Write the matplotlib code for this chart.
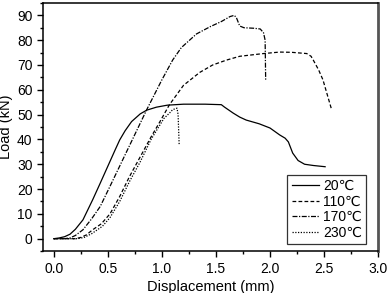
import numpy as np
import matplotlib
matplotlib.use('Agg')
import matplotlib.pyplot as plt
from matplotlib.ticker import MultipleLocator

plt.rcParams['font.family'] = ['Liberation Sans', 'DejaVu Sans']

# load-displacement curves
x_20 = [0, 0.05, 0.1, 0.15, 0.2, 0.27, 0.36, 0.43, 0.5, 0.57, 0.61, 0.66, 0.72, 0.8,
        0.86, 0.95, 1.05, 1.2, 1.4, 1.55, 1.58, 1.62, 1.66, 1.72, 1.78, 1.9, 2.0,
        2.09, 2.14, 2.17, 2.21, 2.26, 2.32, 2.4, 2.51]
y_20 = [0, 0.3, 0.8, 1.8, 3.8, 7.6, 15.7, 22.4, 29.2, 36, 39.8, 43.5, 47.2, 50.3,
        51.8, 53, 53.8, 54.2, 54.2, 54, 53, 51.8, 50.6, 49, 47.8, 46.3, 44.6,
        41.8, 40.5, 39, 34.5, 31.5, 30, 29.5, 29]

x_110 = [0, 0.2, 0.25, 0.3, 0.36, 0.44, 0.52, 0.61, 0.7, 0.8, 0.9, 0.98, 1.07, 1.2,
         1.35, 1.47, 1.6, 1.72, 1.94, 2.09, 2.2, 2.34, 2.38, 2.4, 2.45, 2.49, 2.53, 2.57]
y_110 = [0, 0, 0.5, 1.5, 3.6, 6, 10, 17, 25, 33, 41, 47, 54, 61.8,
         67, 70, 72, 73.5, 74.6, 75.2, 75.1, 74.6, 73.5, 72, 68, 64, 58, 52]

x_170 = [0, 0.1, 0.15, 0.2, 0.27, 0.35, 0.43, 0.53, 0.64, 0.75, 0.86, 1.0, 1.1, 1.18,
         1.32, 1.45, 1.55, 1.63, 1.67, 1.69, 1.72, 1.76, 1.85, 1.91, 1.94, 1.955, 1.96]
y_170 = [0, 0, 0.3, 1.3, 3.6, 8, 13, 22, 32, 42, 52, 64, 72, 77,
         82.5, 85.5, 87.5, 89.5, 90, 89, 85.7, 85, 84.8, 84.5, 83, 80, 64]

x_230 = [0, 0.22, 0.28, 0.35, 0.45, 0.52, 0.61, 0.7, 0.8, 0.9, 0.97, 1.02, 1.07,
         1.1, 1.14, 1.15, 1.16]
y_230 = [0, 0, 0.5, 2, 5, 8.5, 15, 23, 31, 40, 45, 48.5, 50.6, 52, 52.6, 50, 37.7]

labels = ['20℃', '110℃', '170℃', '230℃']

fig = plt.figure(figsize=(3.87, 2.93), dpi=100)
ax = fig.add_axes([0.111, 0.143, 0.866, 0.847])

ax.plot(x_20, y_20, color='black', lw=0.9, ls='-', label=labels[0])
ax.plot(x_110, y_110, color='black', lw=0.9, ls=(0, (3, 1.8)), label=labels[1])
ax.plot(x_170, y_170, color='black', lw=0.9, ls=(0, (4, 1.2, 1, 1.2)), label=labels[2])
ax.plot(x_230, y_230, color='black', lw=0.9, ls=(0, (1, 1.2)), label=labels[3])

ax.set_xlim(-0.1, 3.0)
ax.set_ylim(-5, 95)
ax.xaxis.set_minor_locator(MultipleLocator(0.25))
ax.yaxis.set_minor_locator(MultipleLocator(5))
ax.set_yticks(np.arange(0, 91, 10))
ax.set_xticks(np.arange(0, 3.01, 0.5))
ax.set_xticklabels(['0.0', '0.5', '1.0', '1.5', '2.0', '2.5', '3.0'])
ax.tick_params(which='major', direction='out', length=4, width=1, labelsize=10,
               top=False, right=False)
ax.tick_params(which='minor', direction='out', length=2.5, width=1,
               top=False, right=False)
for s in ax.spines.values():
    s.set_linewidth(1.1)
ax.spines['right'].set_linewidth(2)
ax.spines['right'].set_color('#555555')

ax.set_xlabel('Displacement (mm)', fontsize=10.5, labelpad=3)
ax.set_ylabel('Load (kN)', fontsize=10.5, labelpad=3)

leg = ax.legend(loc='lower right', bbox_to_anchor=(0.964, 0.028), fontsize=10,
                frameon=True, fancybox=False, handlelength=2.0, handletextpad=0.25,
                borderpad=0.3, labelspacing=0.12, borderaxespad=0)
leg.get_frame().set_edgecolor('black')
leg.get_frame().set_linewidth(0.9)

fig.savefig('out.png', dpi=100)
